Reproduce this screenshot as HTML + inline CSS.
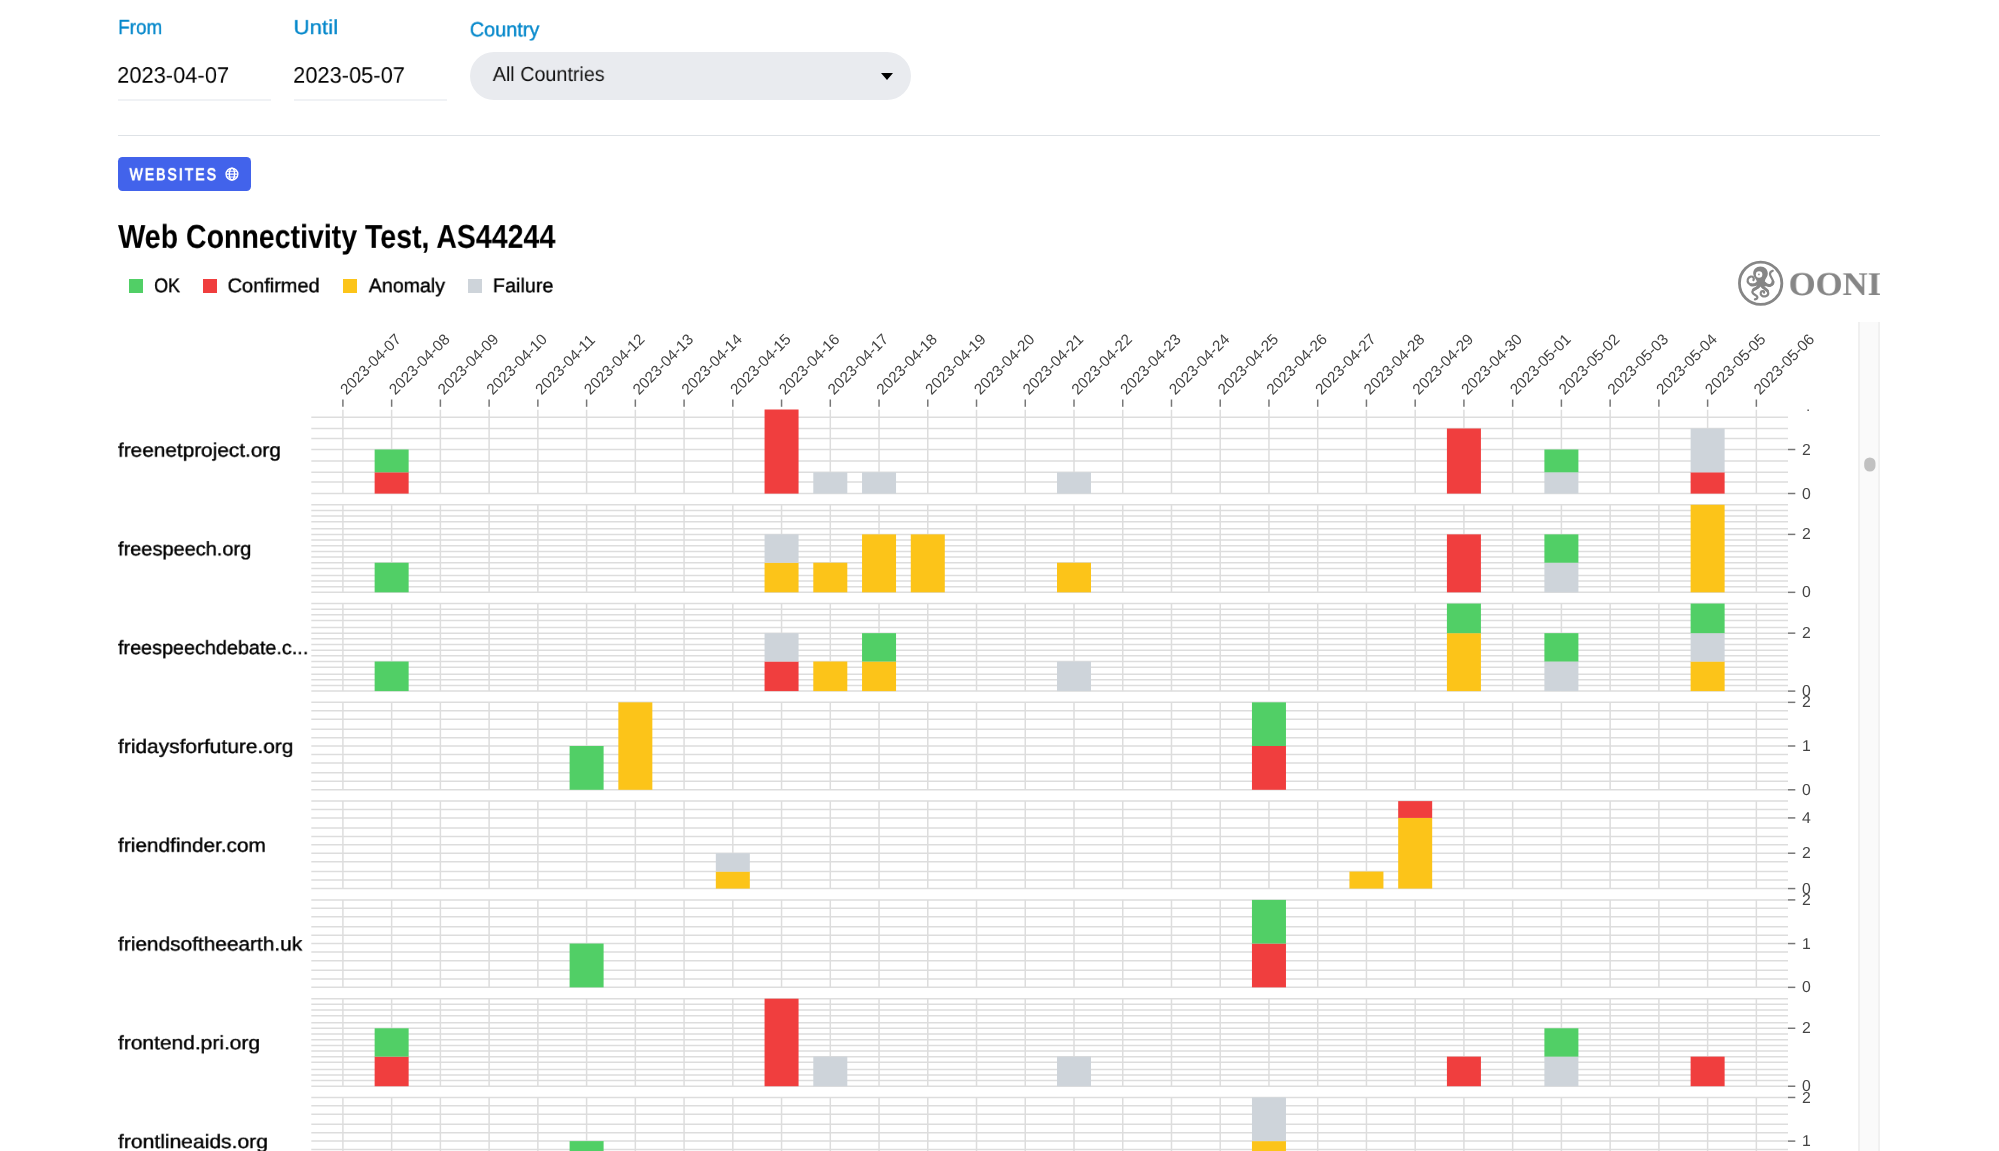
<!DOCTYPE html>
<html lang="en">
<head>
<meta charset="utf-8">
<title>OONI MAT - Web Connectivity Test, AS44244</title>
<style>
html,body{margin:0;padding:0;background:#fff;overflow:hidden;}
html{width:1999px;height:1151px;}
body{width:1999px;height:1151px;overflow:hidden;position:relative;font-family:"Liberation Sans",Arial,sans-serif;color:#000;text-rendering:geometricPrecision;}
.t{position:absolute;display:block;white-space:nowrap;line-height:0;height:0;font-weight:normal;transform-origin:0 0;will-change:transform;}
.lbl{color:#0588cb;-webkit-text-stroke:0.4px #0588cb;}
.fs{-webkit-text-stroke:0.45px #000;}
.uline{position:absolute;height:1.8px;background:#f0f2f5;}
.select{position:absolute;left:470px;top:52px;width:440.5px;height:47.5px;border-radius:24px;background:#e9ebef;}
.caret{position:absolute;left:880.5px;top:72.6px;width:0;height:0;border-left:6.9px solid transparent;border-right:6.9px solid transparent;border-top:7.6px solid #000;}
.hr{position:absolute;left:118px;top:134.7px;width:1762px;height:1.5px;background:#dee2e6;}
.badge{position:absolute;left:118px;top:157.4px;width:133px;height:33.6px;border-radius:4.5px;background:#4263eb;}
.sq{position:absolute;top:278.8px;width:14.4px;height:14.2px;}
.chart{position:absolute;left:0;top:0;will-change:transform;}
.page{position:absolute;left:0;top:0;width:1999px;height:1151px;overflow:hidden;}
</style>
</head>
<body>
<main class="page">
<div class="filters">
<label class="t lbl" id="lfrom" style="left:118px;top:27px;font-size:23.3px;transform:translate(0.15px,0.03px) scale(0.81122,0.87124);">From</label>
<label class="t lbl" id="luntil" style="left:293px;top:27px;font-size:25.7px;transform:translate(0.48px,0.68px) scale(0.86816,0.78988);">Until</label>
<label class="t lbl" id="lcountry" style="left:469px;top:29px;font-size:23.3px;transform:translate(0.79px,0.33px) scale(0.85129,0.87124);">Country</label>
<div class="t" id="d1" style="left:117px;top:75px;font-size:25.9px;transform:translate(0.10px,0.75px) scale(0.84570,0.86873);">2023-04-07</div>
<div class="t" id="d2" style="left:293px;top:75px;font-size:25.9px;transform:translate(0.10px,0.75px) scale(0.84414,0.86873);">2023-05-07</div>
<div class="uline" style="left:118px;top:99.2px;width:153.4px"></div>
<div class="uline" style="left:294.3px;top:99.2px;width:153.2px"></div>
<div class="select"></div>
<div class="t" id="sel" style="left:492px;top:73px;font-size:23.2px;transform:translate(0.76px,0.93px) scale(0.85162,0.87069);color:#111">All Countries</div>
<div class="caret"></div>
</div>
<div class="hr"></div>
<div class="badge"></div>
<div class="t" id="badge" style="left:129px;top:175px;font-size:19.2px;letter-spacing:2.874px;transform:translate(0.60px,0.65px) scale(0.72410,0.86979);color:#fff;-webkit-text-stroke:1px #fff">WEBSITES</div>
<svg style="position:absolute;left:224px;top:167px" width="16" height="16" viewBox="0 0 16 16" fill="none" stroke="#fff" stroke-width="1.4"><g transform="translate(0.95,0.1)"><circle cx="7" cy="7" r="5.9"/><ellipse cx="7" cy="7" rx="2.6" ry="5.9"/><path d="M1.1 7H12.9M2 4.1H12M2 9.9H12" stroke-width="1.1"/></g></svg>
<h1 class="t" id="title" style="left:118px;top:237px;font-size:37.9px;font-weight:bold;transform:translate(0.37px,0.35px) scale(0.75247,0.87071);margin:0;">Web Connectivity Test, AS44244</h1>
<div class="legend">
<div class="sq" style="left:129px;background:#51cf66"></div>
<div class="t fs" id="lg0" style="left:154px;top:285px;font-size:22.8px;transform:translate(0.15px,0.25px) scale(0.78479,0.86842);">OK</div>
<div class="sq" style="left:202.6px;background:#f03e3e"></div>
<div class="t fs" id="lg1" style="left:227px;top:285px;font-size:23px;transform:translate(0.59px,0.31px) scale(0.86801,0.86087);">Confirmed</div>
<div class="sq" style="left:343px;background:#fcc419"></div>
<div class="t fs" id="lg2" style="left:368px;top:285px;font-size:22.8px;transform:translate(0.76px,0.25px) scale(0.85991,0.86842);">Anomaly</div>
<div class="sq" style="left:467.6px;background:#ced4da"></div>
<div class="t fs" id="lg3" style="left:492px;top:285px;font-size:22.8px;transform:translate(0.88px,0.25px) scale(0.86825,0.86842);">Failure</div>
</div>
<div class="logo">
<svg style="position:absolute;left:1735px;top:258px" width="50" height="50" viewBox="0 0 50 50"><circle cx="25.65" cy="25.25" r="21.2" fill="none" stroke="#868686" stroke-width="2.8"/><g fill="none" stroke="#868686" stroke-linecap="round" stroke-linejoin="round">
<path d="M22 25.4C19.6 27.4 15.6 27.6 13.6 25.2C11.6 22.8 12.8 19.2 15.6 18.6C18.2 18.1 19.6 20.4 18.4 22.2" stroke-width="2.2"/>
<path d="M22.4 25.2C20.6 26.8 18 27.4 16 26.8" stroke-width="3"/>
<path d="M29.6 25.2C31.6 27.6 35.6 28.4 37.6 25.8C39.8 22.8 35.4 19.6 35 16.4C34.8 14.8 36 13.4 37.8 12.8" stroke-width="2.2"/>
<path d="M29.4 25C31 27 33.6 27.8 35.6 27.2C37.2 26.6 38 25.2 38 23.8" stroke-width="3"/>
<path d="M24.2 28C22.4 30.4 18 30.8 17.4 33.6C16.8 36.4 21 36.6 22.2 38.6C23 40 21.6 41 19.9 41.3" stroke-width="2.2"/>
<path d="M24 28.2C22.6 30 19.6 30.8 18.2 32" stroke-width="2.9"/>
<path d="M27 28.2C28.6 30.6 32.6 31.4 33.2 34.6C33.8 37.8 29.6 39.4 27 37.8C24.6 36.2 25.6 33 28 33.2C29 33.3 29.4 34 29 34.6" stroke-width="2.2"/>
<path d="M27.2 28.4C28.6 30.2 31.4 31.2 32.6 33" stroke-width="2.9"/>
</g>
<path d="M25.5 8.5C29.8 8.5 32.8 11.6 32.8 15.4C32.8 18.2 31 20 30.2 21.8C29.6 23.8 29.8 26.4 30.6 28.6L21.2 28.8C21.8 26.6 22 24.2 21.4 22.2C20.4 20 18.2 18.4 18.2 15.4C18.2 11.6 21.2 8.5 25.5 8.5Z" fill="#868686"/>
<circle cx="24.1" cy="16.5" r="3.2" fill="#fff"/>
<circle cx="23.9" cy="16.4" r="0.85" fill="#909090"/>
</svg>
<div class="t" id="ooni" style="left:1788px;top:284px;font-size:39.9px;font-weight:bold;transform:translate(0.61px,0.18px) scale(0.87002,0.83208);font-family:'Liberation Serif','Times New Roman',serif;color:#868686">OONI</div>
</div>
<div class="rowlabels">
<div class="t fs" id="rl0" style="left:117px;top:450px;font-size:23.9px;transform:translate(0.91px,0.92px) scale(0.87008,0.81172);">freenetproject.org</div>
<div class="t fs" id="rl1" style="left:118px;top:548px;font-size:23px;transform:translate(0.02px,0.63px) scale(0.86794,0.84348);">freespeech.org</div>
<div class="t fs" id="rl2" style="left:118px;top:647px;font-size:22.8px;transform:translate(0.02px,0.35px) scale(0.86781,0.85088);">freespeechdebate.c...</div>
<div class="t fs" id="rl3" style="left:118px;top:747px;font-size:24px;transform:translate(0.00px,0.28px) scale(0.87106,0.80833);">fridaysforfuture.org</div>
<div class="t fs" id="rl4" style="left:118px;top:846px;font-size:23.9px;transform:translate(0.01px,0.04px) scale(0.86992,0.81172);">friendfinder.com</div>
<div class="t fs" id="rl5" style="left:118px;top:944px;font-size:24px;transform:translate(0.00px,0.84px) scale(0.86815,0.80833);">friendsoftheearth.uk</div>
<div class="t fs" id="rl6" style="left:118px;top:1043px;font-size:24.1px;transform:translate(0.00px,0.65px) scale(0.86930,0.80498);">frontend.pri.org</div>
<div class="t fs" id="rl7" style="left:118px;top:1142px;font-size:24.2px;transform:translate(0.00px,0.45px) scale(0.87068,0.80165);">frontlineaids.org</div>
</div>
<svg class="chart" width="1999" height="1151" viewBox="0 0 1999 1151">
<defs><clipPath id="c1"><rect x="0" y="409.4" width="1999" height="800"/></clipPath></defs>
<g class="scrollbar">
<rect x="1858.1" y="322" width="21.9" height="840" fill="#fafafa"/>
<rect x="1858.1" y="322" width="1.9" height="840" fill="#f0f0f0"/>
<rect x="1878.1" y="322" width="1.9" height="840" fill="#f0f0f0"/>
<rect x="1864.2" y="457.4" width="11.3" height="14.2" rx="5.6" ry="5.6" fill="#c1c1c1"/>
</g>
<g class="axis-top" font-family="'Liberation Sans', Arial, sans-serif" font-size="15.3" fill="#444">
<line x1="342.9" y1="399.5" x2="342.9" y2="406.8" stroke="#777" stroke-width="1.5"/>
<text transform="translate(343.4,392.3) rotate(-45)" dominant-baseline="central" text-anchor="start">2023-04-07</text>
<line x1="391.64" y1="399.5" x2="391.64" y2="406.8" stroke="#777" stroke-width="1.5"/>
<text transform="translate(392.14,392.3) rotate(-45)" dominant-baseline="central" text-anchor="start">2023-04-08</text>
<line x1="440.38" y1="399.5" x2="440.38" y2="406.8" stroke="#777" stroke-width="1.5"/>
<text transform="translate(440.88,392.3) rotate(-45)" dominant-baseline="central" text-anchor="start">2023-04-09</text>
<line x1="489.12" y1="399.5" x2="489.12" y2="406.8" stroke="#777" stroke-width="1.5"/>
<text transform="translate(489.62,392.3) rotate(-45)" dominant-baseline="central" text-anchor="start">2023-04-10</text>
<line x1="537.86" y1="399.5" x2="537.86" y2="406.8" stroke="#777" stroke-width="1.5"/>
<text transform="translate(538.36,392.3) rotate(-45)" dominant-baseline="central" text-anchor="start">2023-04-11</text>
<line x1="586.6" y1="399.5" x2="586.6" y2="406.8" stroke="#777" stroke-width="1.5"/>
<text transform="translate(587.1,392.3) rotate(-45)" dominant-baseline="central" text-anchor="start">2023-04-12</text>
<line x1="635.34" y1="399.5" x2="635.34" y2="406.8" stroke="#777" stroke-width="1.5"/>
<text transform="translate(635.84,392.3) rotate(-45)" dominant-baseline="central" text-anchor="start">2023-04-13</text>
<line x1="684.08" y1="399.5" x2="684.08" y2="406.8" stroke="#777" stroke-width="1.5"/>
<text transform="translate(684.58,392.3) rotate(-45)" dominant-baseline="central" text-anchor="start">2023-04-14</text>
<line x1="732.82" y1="399.5" x2="732.82" y2="406.8" stroke="#777" stroke-width="1.5"/>
<text transform="translate(733.32,392.3) rotate(-45)" dominant-baseline="central" text-anchor="start">2023-04-15</text>
<line x1="781.56" y1="399.5" x2="781.56" y2="406.8" stroke="#777" stroke-width="1.5"/>
<text transform="translate(782.06,392.3) rotate(-45)" dominant-baseline="central" text-anchor="start">2023-04-16</text>
<line x1="830.3" y1="399.5" x2="830.3" y2="406.8" stroke="#777" stroke-width="1.5"/>
<text transform="translate(830.8,392.3) rotate(-45)" dominant-baseline="central" text-anchor="start">2023-04-17</text>
<line x1="879.04" y1="399.5" x2="879.04" y2="406.8" stroke="#777" stroke-width="1.5"/>
<text transform="translate(879.54,392.3) rotate(-45)" dominant-baseline="central" text-anchor="start">2023-04-18</text>
<line x1="927.78" y1="399.5" x2="927.78" y2="406.8" stroke="#777" stroke-width="1.5"/>
<text transform="translate(928.28,392.3) rotate(-45)" dominant-baseline="central" text-anchor="start">2023-04-19</text>
<line x1="976.52" y1="399.5" x2="976.52" y2="406.8" stroke="#777" stroke-width="1.5"/>
<text transform="translate(977.02,392.3) rotate(-45)" dominant-baseline="central" text-anchor="start">2023-04-20</text>
<line x1="1025.26" y1="399.5" x2="1025.26" y2="406.8" stroke="#777" stroke-width="1.5"/>
<text transform="translate(1025.76,392.3) rotate(-45)" dominant-baseline="central" text-anchor="start">2023-04-21</text>
<line x1="1074" y1="399.5" x2="1074" y2="406.8" stroke="#777" stroke-width="1.5"/>
<text transform="translate(1074.5,392.3) rotate(-45)" dominant-baseline="central" text-anchor="start">2023-04-22</text>
<line x1="1122.74" y1="399.5" x2="1122.74" y2="406.8" stroke="#777" stroke-width="1.5"/>
<text transform="translate(1123.24,392.3) rotate(-45)" dominant-baseline="central" text-anchor="start">2023-04-23</text>
<line x1="1171.48" y1="399.5" x2="1171.48" y2="406.8" stroke="#777" stroke-width="1.5"/>
<text transform="translate(1171.98,392.3) rotate(-45)" dominant-baseline="central" text-anchor="start">2023-04-24</text>
<line x1="1220.22" y1="399.5" x2="1220.22" y2="406.8" stroke="#777" stroke-width="1.5"/>
<text transform="translate(1220.72,392.3) rotate(-45)" dominant-baseline="central" text-anchor="start">2023-04-25</text>
<line x1="1268.96" y1="399.5" x2="1268.96" y2="406.8" stroke="#777" stroke-width="1.5"/>
<text transform="translate(1269.46,392.3) rotate(-45)" dominant-baseline="central" text-anchor="start">2023-04-26</text>
<line x1="1317.7" y1="399.5" x2="1317.7" y2="406.8" stroke="#777" stroke-width="1.5"/>
<text transform="translate(1318.2,392.3) rotate(-45)" dominant-baseline="central" text-anchor="start">2023-04-27</text>
<line x1="1366.44" y1="399.5" x2="1366.44" y2="406.8" stroke="#777" stroke-width="1.5"/>
<text transform="translate(1366.94,392.3) rotate(-45)" dominant-baseline="central" text-anchor="start">2023-04-28</text>
<line x1="1415.18" y1="399.5" x2="1415.18" y2="406.8" stroke="#777" stroke-width="1.5"/>
<text transform="translate(1415.68,392.3) rotate(-45)" dominant-baseline="central" text-anchor="start">2023-04-29</text>
<line x1="1463.92" y1="399.5" x2="1463.92" y2="406.8" stroke="#777" stroke-width="1.5"/>
<text transform="translate(1464.42,392.3) rotate(-45)" dominant-baseline="central" text-anchor="start">2023-04-30</text>
<line x1="1512.66" y1="399.5" x2="1512.66" y2="406.8" stroke="#777" stroke-width="1.5"/>
<text transform="translate(1513.16,392.3) rotate(-45)" dominant-baseline="central" text-anchor="start">2023-05-01</text>
<line x1="1561.4" y1="399.5" x2="1561.4" y2="406.8" stroke="#777" stroke-width="1.5"/>
<text transform="translate(1561.9,392.3) rotate(-45)" dominant-baseline="central" text-anchor="start">2023-05-02</text>
<line x1="1610.14" y1="399.5" x2="1610.14" y2="406.8" stroke="#777" stroke-width="1.5"/>
<text transform="translate(1610.64,392.3) rotate(-45)" dominant-baseline="central" text-anchor="start">2023-05-03</text>
<line x1="1658.88" y1="399.5" x2="1658.88" y2="406.8" stroke="#777" stroke-width="1.5"/>
<text transform="translate(1659.38,392.3) rotate(-45)" dominant-baseline="central" text-anchor="start">2023-05-04</text>
<line x1="1707.62" y1="399.5" x2="1707.62" y2="406.8" stroke="#777" stroke-width="1.5"/>
<text transform="translate(1708.12,392.3) rotate(-45)" dominant-baseline="central" text-anchor="start">2023-05-05</text>
<line x1="1756.36" y1="399.5" x2="1756.36" y2="406.8" stroke="#777" stroke-width="1.5"/>
<text transform="translate(1756.86,392.3) rotate(-45)" dominant-baseline="central" text-anchor="start">2023-05-06</text>
</g>
<g class="row" clip-path="url(#c1)">
<g class="grid" stroke="#dddddd" stroke-width="1.5">
<line x1="342.9" y1="409.4" x2="342.9" y2="493.6"/>
<line x1="391.64" y1="409.4" x2="391.64" y2="493.6"/>
<line x1="440.38" y1="409.4" x2="440.38" y2="493.6"/>
<line x1="489.12" y1="409.4" x2="489.12" y2="493.6"/>
<line x1="537.86" y1="409.4" x2="537.86" y2="493.6"/>
<line x1="586.6" y1="409.4" x2="586.6" y2="493.6"/>
<line x1="635.34" y1="409.4" x2="635.34" y2="493.6"/>
<line x1="684.08" y1="409.4" x2="684.08" y2="493.6"/>
<line x1="732.82" y1="409.4" x2="732.82" y2="493.6"/>
<line x1="781.56" y1="409.4" x2="781.56" y2="493.6"/>
<line x1="830.3" y1="409.4" x2="830.3" y2="493.6"/>
<line x1="879.04" y1="409.4" x2="879.04" y2="493.6"/>
<line x1="927.78" y1="409.4" x2="927.78" y2="493.6"/>
<line x1="976.52" y1="409.4" x2="976.52" y2="493.6"/>
<line x1="1025.26" y1="409.4" x2="1025.26" y2="493.6"/>
<line x1="1074" y1="409.4" x2="1074" y2="493.6"/>
<line x1="1122.74" y1="409.4" x2="1122.74" y2="493.6"/>
<line x1="1171.48" y1="409.4" x2="1171.48" y2="493.6"/>
<line x1="1220.22" y1="409.4" x2="1220.22" y2="493.6"/>
<line x1="1268.96" y1="409.4" x2="1268.96" y2="493.6"/>
<line x1="1317.7" y1="409.4" x2="1317.7" y2="493.6"/>
<line x1="1366.44" y1="409.4" x2="1366.44" y2="493.6"/>
<line x1="1415.18" y1="409.4" x2="1415.18" y2="493.6"/>
<line x1="1463.92" y1="409.4" x2="1463.92" y2="493.6"/>
<line x1="1512.66" y1="409.4" x2="1512.66" y2="493.6"/>
<line x1="1561.4" y1="409.4" x2="1561.4" y2="493.6"/>
<line x1="1610.14" y1="409.4" x2="1610.14" y2="493.6"/>
<line x1="1658.88" y1="409.4" x2="1658.88" y2="493.6"/>
<line x1="1707.62" y1="409.4" x2="1707.62" y2="493.6"/>
<line x1="1756.36" y1="409.4" x2="1756.36" y2="493.6"/>
<line x1="311.3" y1="493.6" x2="1788" y2="493.6"/>
<line x1="311.3" y1="482.1" x2="1788" y2="482.1"/>
<line x1="311.3" y1="472.3" x2="1788" y2="472.3"/>
<line x1="311.3" y1="461.1" x2="1788" y2="461.1"/>
<line x1="311.3" y1="449.5" x2="1788" y2="449.5"/>
<line x1="311.3" y1="438.4" x2="1788" y2="438.4"/>
<line x1="311.3" y1="428.5" x2="1788" y2="428.5"/>
<line x1="311.3" y1="417.3" x2="1788" y2="417.3"/>
</g>
<g class="bars">
<rect x="374.64" y="472.3" width="34" height="21.3" fill="#f03e3e"/>
<rect x="374.64" y="449.5" width="34" height="22.8" fill="#51cf66"/>
<rect x="764.56" y="406" width="34" height="87.6" fill="#f03e3e"/>
<rect x="813.3" y="472.3" width="34" height="21.3" fill="#ced4da"/>
<rect x="862.04" y="472.3" width="34" height="21.3" fill="#ced4da"/>
<rect x="1057" y="472.3" width="34" height="21.3" fill="#ced4da"/>
<rect x="1446.92" y="428.5" width="34" height="65.1" fill="#f03e3e"/>
<rect x="1544.4" y="472.3" width="34" height="21.3" fill="#ced4da"/>
<rect x="1544.4" y="449.5" width="34" height="22.8" fill="#51cf66"/>
<rect x="1690.62" y="472.3" width="34" height="21.3" fill="#f03e3e"/>
<rect x="1690.62" y="428.5" width="34" height="43.8" fill="#ced4da"/>
</g>
<g class="axis-right" font-family="'Liberation Sans', Arial, sans-serif" font-size="15.8" fill="#444">
<line x1="1788" y1="493.6" x2="1795.3" y2="493.6" stroke="#777" stroke-width="1.5"/>
<text transform="translate(1802,498.71) rotate(0.02)">0</text>
<line x1="1788" y1="449.5" x2="1795.3" y2="449.5" stroke="#777" stroke-width="1.5"/>
<text transform="translate(1802,454.61) rotate(0.02)">2</text>
<line x1="1788" y1="406" x2="1795.3" y2="406" stroke="#777" stroke-width="1.5"/>
<text transform="translate(1802,410.66) rotate(0.02)">4</text>
</g>
</g>
<g class="row">
<g class="grid" stroke="#dddddd" stroke-width="1.5">
<line x1="342.9" y1="504.78" x2="342.9" y2="592.33"/>
<line x1="391.64" y1="504.78" x2="391.64" y2="592.33"/>
<line x1="440.38" y1="504.78" x2="440.38" y2="592.33"/>
<line x1="489.12" y1="504.78" x2="489.12" y2="592.33"/>
<line x1="537.86" y1="504.78" x2="537.86" y2="592.33"/>
<line x1="586.6" y1="504.78" x2="586.6" y2="592.33"/>
<line x1="635.34" y1="504.78" x2="635.34" y2="592.33"/>
<line x1="684.08" y1="504.78" x2="684.08" y2="592.33"/>
<line x1="732.82" y1="504.78" x2="732.82" y2="592.33"/>
<line x1="781.56" y1="504.78" x2="781.56" y2="592.33"/>
<line x1="830.3" y1="504.78" x2="830.3" y2="592.33"/>
<line x1="879.04" y1="504.78" x2="879.04" y2="592.33"/>
<line x1="927.78" y1="504.78" x2="927.78" y2="592.33"/>
<line x1="976.52" y1="504.78" x2="976.52" y2="592.33"/>
<line x1="1025.26" y1="504.78" x2="1025.26" y2="592.33"/>
<line x1="1074" y1="504.78" x2="1074" y2="592.33"/>
<line x1="1122.74" y1="504.78" x2="1122.74" y2="592.33"/>
<line x1="1171.48" y1="504.78" x2="1171.48" y2="592.33"/>
<line x1="1220.22" y1="504.78" x2="1220.22" y2="592.33"/>
<line x1="1268.96" y1="504.78" x2="1268.96" y2="592.33"/>
<line x1="1317.7" y1="504.78" x2="1317.7" y2="592.33"/>
<line x1="1366.44" y1="504.78" x2="1366.44" y2="592.33"/>
<line x1="1415.18" y1="504.78" x2="1415.18" y2="592.33"/>
<line x1="1463.92" y1="504.78" x2="1463.92" y2="592.33"/>
<line x1="1512.66" y1="504.78" x2="1512.66" y2="592.33"/>
<line x1="1561.4" y1="504.78" x2="1561.4" y2="592.33"/>
<line x1="1610.14" y1="504.78" x2="1610.14" y2="592.33"/>
<line x1="1658.88" y1="504.78" x2="1658.88" y2="592.33"/>
<line x1="1707.62" y1="504.78" x2="1707.62" y2="592.33"/>
<line x1="1756.36" y1="504.78" x2="1756.36" y2="592.33"/>
<line x1="311.3" y1="592.33" x2="1788" y2="592.33"/>
<line x1="311.3" y1="586.68" x2="1788" y2="586.68"/>
<line x1="311.3" y1="581.08" x2="1788" y2="581.08"/>
<line x1="311.3" y1="575.53" x2="1788" y2="575.53"/>
<line x1="311.3" y1="568.43" x2="1788" y2="568.43"/>
<line x1="311.3" y1="562.73" x2="1788" y2="562.73"/>
<line x1="311.3" y1="557.08" x2="1788" y2="557.08"/>
<line x1="311.3" y1="551.48" x2="1788" y2="551.48"/>
<line x1="311.3" y1="545.73" x2="1788" y2="545.73"/>
<line x1="311.3" y1="539.98" x2="1788" y2="539.98"/>
<line x1="311.3" y1="534.38" x2="1788" y2="534.38"/>
<line x1="311.3" y1="528.78" x2="1788" y2="528.78"/>
<line x1="311.3" y1="521.78" x2="1788" y2="521.78"/>
<line x1="311.3" y1="516.08" x2="1788" y2="516.08"/>
<line x1="311.3" y1="510.38" x2="1788" y2="510.38"/>
<line x1="311.3" y1="504.78" x2="1788" y2="504.78"/>
</g>
<g class="bars">
<rect x="374.64" y="562.73" width="34" height="29.6" fill="#51cf66"/>
<rect x="764.56" y="562.73" width="34" height="29.6" fill="#fcc419"/>
<rect x="764.56" y="534.38" width="34" height="28.35" fill="#ced4da"/>
<rect x="813.3" y="562.73" width="34" height="29.6" fill="#fcc419"/>
<rect x="862.04" y="534.38" width="34" height="57.95" fill="#fcc419"/>
<rect x="910.78" y="534.38" width="34" height="57.95" fill="#fcc419"/>
<rect x="1057" y="562.73" width="34" height="29.6" fill="#fcc419"/>
<rect x="1446.92" y="534.38" width="34" height="57.95" fill="#f03e3e"/>
<rect x="1544.4" y="562.73" width="34" height="29.6" fill="#ced4da"/>
<rect x="1544.4" y="534.38" width="34" height="28.35" fill="#51cf66"/>
<rect x="1690.62" y="504.78" width="34" height="87.55" fill="#fcc419"/>
</g>
<g class="axis-right" font-family="'Liberation Sans', Arial, sans-serif" font-size="15.8" fill="#444">
<line x1="1788" y1="592.33" x2="1795.3" y2="592.33" stroke="#777" stroke-width="1.5"/>
<text transform="translate(1802,597.44) rotate(0.02)">0</text>
<line x1="1788" y1="534.38" x2="1795.3" y2="534.38" stroke="#777" stroke-width="1.5"/>
<text transform="translate(1802,539.49) rotate(0.02)">2</text>
</g>
</g>
<g class="row">
<g class="grid" stroke="#dddddd" stroke-width="1.5">
<line x1="342.9" y1="603.56" x2="342.9" y2="691.11"/>
<line x1="391.64" y1="603.56" x2="391.64" y2="691.11"/>
<line x1="440.38" y1="603.56" x2="440.38" y2="691.11"/>
<line x1="489.12" y1="603.56" x2="489.12" y2="691.11"/>
<line x1="537.86" y1="603.56" x2="537.86" y2="691.11"/>
<line x1="586.6" y1="603.56" x2="586.6" y2="691.11"/>
<line x1="635.34" y1="603.56" x2="635.34" y2="691.11"/>
<line x1="684.08" y1="603.56" x2="684.08" y2="691.11"/>
<line x1="732.82" y1="603.56" x2="732.82" y2="691.11"/>
<line x1="781.56" y1="603.56" x2="781.56" y2="691.11"/>
<line x1="830.3" y1="603.56" x2="830.3" y2="691.11"/>
<line x1="879.04" y1="603.56" x2="879.04" y2="691.11"/>
<line x1="927.78" y1="603.56" x2="927.78" y2="691.11"/>
<line x1="976.52" y1="603.56" x2="976.52" y2="691.11"/>
<line x1="1025.26" y1="603.56" x2="1025.26" y2="691.11"/>
<line x1="1074" y1="603.56" x2="1074" y2="691.11"/>
<line x1="1122.74" y1="603.56" x2="1122.74" y2="691.11"/>
<line x1="1171.48" y1="603.56" x2="1171.48" y2="691.11"/>
<line x1="1220.22" y1="603.56" x2="1220.22" y2="691.11"/>
<line x1="1268.96" y1="603.56" x2="1268.96" y2="691.11"/>
<line x1="1317.7" y1="603.56" x2="1317.7" y2="691.11"/>
<line x1="1366.44" y1="603.56" x2="1366.44" y2="691.11"/>
<line x1="1415.18" y1="603.56" x2="1415.18" y2="691.11"/>
<line x1="1463.92" y1="603.56" x2="1463.92" y2="691.11"/>
<line x1="1512.66" y1="603.56" x2="1512.66" y2="691.11"/>
<line x1="1561.4" y1="603.56" x2="1561.4" y2="691.11"/>
<line x1="1610.14" y1="603.56" x2="1610.14" y2="691.11"/>
<line x1="1658.88" y1="603.56" x2="1658.88" y2="691.11"/>
<line x1="1707.62" y1="603.56" x2="1707.62" y2="691.11"/>
<line x1="1756.36" y1="603.56" x2="1756.36" y2="691.11"/>
<line x1="311.3" y1="691.11" x2="1788" y2="691.11"/>
<line x1="311.3" y1="685.46" x2="1788" y2="685.46"/>
<line x1="311.3" y1="679.86" x2="1788" y2="679.86"/>
<line x1="311.3" y1="674.31" x2="1788" y2="674.31"/>
<line x1="311.3" y1="667.21" x2="1788" y2="667.21"/>
<line x1="311.3" y1="661.51" x2="1788" y2="661.51"/>
<line x1="311.3" y1="655.86" x2="1788" y2="655.86"/>
<line x1="311.3" y1="650.26" x2="1788" y2="650.26"/>
<line x1="311.3" y1="644.51" x2="1788" y2="644.51"/>
<line x1="311.3" y1="638.76" x2="1788" y2="638.76"/>
<line x1="311.3" y1="633.16" x2="1788" y2="633.16"/>
<line x1="311.3" y1="627.56" x2="1788" y2="627.56"/>
<line x1="311.3" y1="620.56" x2="1788" y2="620.56"/>
<line x1="311.3" y1="614.86" x2="1788" y2="614.86"/>
<line x1="311.3" y1="609.16" x2="1788" y2="609.16"/>
<line x1="311.3" y1="603.56" x2="1788" y2="603.56"/>
</g>
<g class="bars">
<rect x="374.64" y="661.51" width="34" height="29.6" fill="#51cf66"/>
<rect x="764.56" y="661.51" width="34" height="29.6" fill="#f03e3e"/>
<rect x="764.56" y="633.16" width="34" height="28.35" fill="#ced4da"/>
<rect x="813.3" y="661.51" width="34" height="29.6" fill="#fcc419"/>
<rect x="862.04" y="661.51" width="34" height="29.6" fill="#fcc419"/>
<rect x="862.04" y="633.16" width="34" height="28.35" fill="#51cf66"/>
<rect x="1057" y="661.51" width="34" height="29.6" fill="#ced4da"/>
<rect x="1446.92" y="633.16" width="34" height="57.95" fill="#fcc419"/>
<rect x="1446.92" y="603.56" width="34" height="29.6" fill="#51cf66"/>
<rect x="1544.4" y="661.51" width="34" height="29.6" fill="#ced4da"/>
<rect x="1544.4" y="633.16" width="34" height="28.35" fill="#51cf66"/>
<rect x="1690.62" y="661.51" width="34" height="29.6" fill="#fcc419"/>
<rect x="1690.62" y="633.16" width="34" height="28.35" fill="#ced4da"/>
<rect x="1690.62" y="603.56" width="34" height="29.6" fill="#51cf66"/>
</g>
<g class="axis-right" font-family="'Liberation Sans', Arial, sans-serif" font-size="15.8" fill="#444">
<line x1="1788" y1="691.11" x2="1795.3" y2="691.11" stroke="#777" stroke-width="1.5"/>
<text transform="translate(1802,696.22) rotate(0.02)">0</text>
<line x1="1788" y1="633.16" x2="1795.3" y2="633.16" stroke="#777" stroke-width="1.5"/>
<text transform="translate(1802,638.27) rotate(0.02)">2</text>
</g>
</g>
<g class="row">
<g class="grid" stroke="#dddddd" stroke-width="1.5">
<line x1="342.9" y1="702.34" x2="342.9" y2="789.79"/>
<line x1="391.64" y1="702.34" x2="391.64" y2="789.79"/>
<line x1="440.38" y1="702.34" x2="440.38" y2="789.79"/>
<line x1="489.12" y1="702.34" x2="489.12" y2="789.79"/>
<line x1="537.86" y1="702.34" x2="537.86" y2="789.79"/>
<line x1="586.6" y1="702.34" x2="586.6" y2="789.79"/>
<line x1="635.34" y1="702.34" x2="635.34" y2="789.79"/>
<line x1="684.08" y1="702.34" x2="684.08" y2="789.79"/>
<line x1="732.82" y1="702.34" x2="732.82" y2="789.79"/>
<line x1="781.56" y1="702.34" x2="781.56" y2="789.79"/>
<line x1="830.3" y1="702.34" x2="830.3" y2="789.79"/>
<line x1="879.04" y1="702.34" x2="879.04" y2="789.79"/>
<line x1="927.78" y1="702.34" x2="927.78" y2="789.79"/>
<line x1="976.52" y1="702.34" x2="976.52" y2="789.79"/>
<line x1="1025.26" y1="702.34" x2="1025.26" y2="789.79"/>
<line x1="1074" y1="702.34" x2="1074" y2="789.79"/>
<line x1="1122.74" y1="702.34" x2="1122.74" y2="789.79"/>
<line x1="1171.48" y1="702.34" x2="1171.48" y2="789.79"/>
<line x1="1220.22" y1="702.34" x2="1220.22" y2="789.79"/>
<line x1="1268.96" y1="702.34" x2="1268.96" y2="789.79"/>
<line x1="1317.7" y1="702.34" x2="1317.7" y2="789.79"/>
<line x1="1366.44" y1="702.34" x2="1366.44" y2="789.79"/>
<line x1="1415.18" y1="702.34" x2="1415.18" y2="789.79"/>
<line x1="1463.92" y1="702.34" x2="1463.92" y2="789.79"/>
<line x1="1512.66" y1="702.34" x2="1512.66" y2="789.79"/>
<line x1="1561.4" y1="702.34" x2="1561.4" y2="789.79"/>
<line x1="1610.14" y1="702.34" x2="1610.14" y2="789.79"/>
<line x1="1658.88" y1="702.34" x2="1658.88" y2="789.79"/>
<line x1="1707.62" y1="702.34" x2="1707.62" y2="789.79"/>
<line x1="1756.36" y1="702.34" x2="1756.36" y2="789.79"/>
<line x1="311.3" y1="789.79" x2="1788" y2="789.79"/>
<line x1="311.3" y1="781.34" x2="1788" y2="781.34"/>
<line x1="311.3" y1="772.79" x2="1788" y2="772.79"/>
<line x1="311.3" y1="763.09" x2="1788" y2="763.09"/>
<line x1="311.3" y1="754.44" x2="1788" y2="754.44"/>
<line x1="311.3" y1="745.99" x2="1788" y2="745.99"/>
<line x1="311.3" y1="737.69" x2="1788" y2="737.69"/>
<line x1="311.3" y1="729.19" x2="1788" y2="729.19"/>
<line x1="311.3" y1="719.14" x2="1788" y2="719.14"/>
<line x1="311.3" y1="710.69" x2="1788" y2="710.69"/>
<line x1="311.3" y1="702.34" x2="1788" y2="702.34"/>
</g>
<g class="bars">
<rect x="569.6" y="745.99" width="34" height="43.8" fill="#51cf66"/>
<rect x="618.34" y="702.34" width="34" height="87.45" fill="#fcc419"/>
<rect x="1251.96" y="745.99" width="34" height="43.8" fill="#f03e3e"/>
<rect x="1251.96" y="702.34" width="34" height="43.65" fill="#51cf66"/>
</g>
<g class="axis-right" font-family="'Liberation Sans', Arial, sans-serif" font-size="15.8" fill="#444">
<line x1="1788" y1="789.79" x2="1795.3" y2="789.79" stroke="#777" stroke-width="1.5"/>
<text transform="translate(1802,794.9) rotate(0.02)">0</text>
<line x1="1788" y1="745.99" x2="1795.3" y2="745.99" stroke="#777" stroke-width="1.5"/>
<text transform="translate(1802,751.1) rotate(0.02)">1</text>
<line x1="1788" y1="702.34" x2="1795.3" y2="702.34" stroke="#777" stroke-width="1.5"/>
<text transform="translate(1802,707.45) rotate(0.02)">2</text>
</g>
</g>
<g class="row">
<g class="grid" stroke="#dddddd" stroke-width="1.5">
<line x1="342.9" y1="801.12" x2="342.9" y2="888.57"/>
<line x1="391.64" y1="801.12" x2="391.64" y2="888.57"/>
<line x1="440.38" y1="801.12" x2="440.38" y2="888.57"/>
<line x1="489.12" y1="801.12" x2="489.12" y2="888.57"/>
<line x1="537.86" y1="801.12" x2="537.86" y2="888.57"/>
<line x1="586.6" y1="801.12" x2="586.6" y2="888.57"/>
<line x1="635.34" y1="801.12" x2="635.34" y2="888.57"/>
<line x1="684.08" y1="801.12" x2="684.08" y2="888.57"/>
<line x1="732.82" y1="801.12" x2="732.82" y2="888.57"/>
<line x1="781.56" y1="801.12" x2="781.56" y2="888.57"/>
<line x1="830.3" y1="801.12" x2="830.3" y2="888.57"/>
<line x1="879.04" y1="801.12" x2="879.04" y2="888.57"/>
<line x1="927.78" y1="801.12" x2="927.78" y2="888.57"/>
<line x1="976.52" y1="801.12" x2="976.52" y2="888.57"/>
<line x1="1025.26" y1="801.12" x2="1025.26" y2="888.57"/>
<line x1="1074" y1="801.12" x2="1074" y2="888.57"/>
<line x1="1122.74" y1="801.12" x2="1122.74" y2="888.57"/>
<line x1="1171.48" y1="801.12" x2="1171.48" y2="888.57"/>
<line x1="1220.22" y1="801.12" x2="1220.22" y2="888.57"/>
<line x1="1268.96" y1="801.12" x2="1268.96" y2="888.57"/>
<line x1="1317.7" y1="801.12" x2="1317.7" y2="888.57"/>
<line x1="1366.44" y1="801.12" x2="1366.44" y2="888.57"/>
<line x1="1415.18" y1="801.12" x2="1415.18" y2="888.57"/>
<line x1="1463.92" y1="801.12" x2="1463.92" y2="888.57"/>
<line x1="1512.66" y1="801.12" x2="1512.66" y2="888.57"/>
<line x1="1561.4" y1="801.12" x2="1561.4" y2="888.57"/>
<line x1="1610.14" y1="801.12" x2="1610.14" y2="888.57"/>
<line x1="1658.88" y1="801.12" x2="1658.88" y2="888.57"/>
<line x1="1707.62" y1="801.12" x2="1707.62" y2="888.57"/>
<line x1="1756.36" y1="801.12" x2="1756.36" y2="888.57"/>
<line x1="311.3" y1="888.57" x2="1788" y2="888.57"/>
<line x1="311.3" y1="880.12" x2="1788" y2="880.12"/>
<line x1="311.3" y1="871.57" x2="1788" y2="871.57"/>
<line x1="311.3" y1="861.87" x2="1788" y2="861.87"/>
<line x1="311.3" y1="853.22" x2="1788" y2="853.22"/>
<line x1="311.3" y1="844.77" x2="1788" y2="844.77"/>
<line x1="311.3" y1="836.47" x2="1788" y2="836.47"/>
<line x1="311.3" y1="827.97" x2="1788" y2="827.97"/>
<line x1="311.3" y1="817.92" x2="1788" y2="817.92"/>
<line x1="311.3" y1="809.47" x2="1788" y2="809.47"/>
<line x1="311.3" y1="801.12" x2="1788" y2="801.12"/>
</g>
<g class="bars">
<rect x="715.82" y="871.57" width="34" height="17" fill="#fcc419"/>
<rect x="715.82" y="853.22" width="34" height="18.35" fill="#ced4da"/>
<rect x="1349.44" y="871.57" width="34" height="17" fill="#fcc419"/>
<rect x="1398.18" y="817.92" width="34" height="70.65" fill="#fcc419"/>
<rect x="1398.18" y="801.12" width="34" height="16.8" fill="#f03e3e"/>
</g>
<g class="axis-right" font-family="'Liberation Sans', Arial, sans-serif" font-size="15.8" fill="#444">
<line x1="1788" y1="888.57" x2="1795.3" y2="888.57" stroke="#777" stroke-width="1.5"/>
<text transform="translate(1802,893.68) rotate(0.02)">0</text>
<line x1="1788" y1="853.22" x2="1795.3" y2="853.22" stroke="#777" stroke-width="1.5"/>
<text transform="translate(1802,858.33) rotate(0.02)">2</text>
<line x1="1788" y1="817.92" x2="1795.3" y2="817.92" stroke="#777" stroke-width="1.5"/>
<text transform="translate(1802,823.03) rotate(0.02)">4</text>
</g>
</g>
<g class="row">
<g class="grid" stroke="#dddddd" stroke-width="1.5">
<line x1="342.9" y1="899.9" x2="342.9" y2="987.35"/>
<line x1="391.64" y1="899.9" x2="391.64" y2="987.35"/>
<line x1="440.38" y1="899.9" x2="440.38" y2="987.35"/>
<line x1="489.12" y1="899.9" x2="489.12" y2="987.35"/>
<line x1="537.86" y1="899.9" x2="537.86" y2="987.35"/>
<line x1="586.6" y1="899.9" x2="586.6" y2="987.35"/>
<line x1="635.34" y1="899.9" x2="635.34" y2="987.35"/>
<line x1="684.08" y1="899.9" x2="684.08" y2="987.35"/>
<line x1="732.82" y1="899.9" x2="732.82" y2="987.35"/>
<line x1="781.56" y1="899.9" x2="781.56" y2="987.35"/>
<line x1="830.3" y1="899.9" x2="830.3" y2="987.35"/>
<line x1="879.04" y1="899.9" x2="879.04" y2="987.35"/>
<line x1="927.78" y1="899.9" x2="927.78" y2="987.35"/>
<line x1="976.52" y1="899.9" x2="976.52" y2="987.35"/>
<line x1="1025.26" y1="899.9" x2="1025.26" y2="987.35"/>
<line x1="1074" y1="899.9" x2="1074" y2="987.35"/>
<line x1="1122.74" y1="899.9" x2="1122.74" y2="987.35"/>
<line x1="1171.48" y1="899.9" x2="1171.48" y2="987.35"/>
<line x1="1220.22" y1="899.9" x2="1220.22" y2="987.35"/>
<line x1="1268.96" y1="899.9" x2="1268.96" y2="987.35"/>
<line x1="1317.7" y1="899.9" x2="1317.7" y2="987.35"/>
<line x1="1366.44" y1="899.9" x2="1366.44" y2="987.35"/>
<line x1="1415.18" y1="899.9" x2="1415.18" y2="987.35"/>
<line x1="1463.92" y1="899.9" x2="1463.92" y2="987.35"/>
<line x1="1512.66" y1="899.9" x2="1512.66" y2="987.35"/>
<line x1="1561.4" y1="899.9" x2="1561.4" y2="987.35"/>
<line x1="1610.14" y1="899.9" x2="1610.14" y2="987.35"/>
<line x1="1658.88" y1="899.9" x2="1658.88" y2="987.35"/>
<line x1="1707.62" y1="899.9" x2="1707.62" y2="987.35"/>
<line x1="1756.36" y1="899.9" x2="1756.36" y2="987.35"/>
<line x1="311.3" y1="987.35" x2="1788" y2="987.35"/>
<line x1="311.3" y1="978.9" x2="1788" y2="978.9"/>
<line x1="311.3" y1="970.35" x2="1788" y2="970.35"/>
<line x1="311.3" y1="960.65" x2="1788" y2="960.65"/>
<line x1="311.3" y1="952" x2="1788" y2="952"/>
<line x1="311.3" y1="943.55" x2="1788" y2="943.55"/>
<line x1="311.3" y1="935.25" x2="1788" y2="935.25"/>
<line x1="311.3" y1="926.75" x2="1788" y2="926.75"/>
<line x1="311.3" y1="916.7" x2="1788" y2="916.7"/>
<line x1="311.3" y1="908.25" x2="1788" y2="908.25"/>
<line x1="311.3" y1="899.9" x2="1788" y2="899.9"/>
</g>
<g class="bars">
<rect x="569.6" y="943.55" width="34" height="43.8" fill="#51cf66"/>
<rect x="1251.96" y="943.55" width="34" height="43.8" fill="#f03e3e"/>
<rect x="1251.96" y="899.9" width="34" height="43.65" fill="#51cf66"/>
</g>
<g class="axis-right" font-family="'Liberation Sans', Arial, sans-serif" font-size="15.8" fill="#444">
<line x1="1788" y1="987.35" x2="1795.3" y2="987.35" stroke="#777" stroke-width="1.5"/>
<text transform="translate(1802,992.46) rotate(0.02)">0</text>
<line x1="1788" y1="943.55" x2="1795.3" y2="943.55" stroke="#777" stroke-width="1.5"/>
<text transform="translate(1802,948.66) rotate(0.02)">1</text>
<line x1="1788" y1="899.9" x2="1795.3" y2="899.9" stroke="#777" stroke-width="1.5"/>
<text transform="translate(1802,905.01) rotate(0.02)">2</text>
</g>
</g>
<g class="row">
<g class="grid" stroke="#dddddd" stroke-width="1.5">
<line x1="342.9" y1="998.68" x2="342.9" y2="1086.23"/>
<line x1="391.64" y1="998.68" x2="391.64" y2="1086.23"/>
<line x1="440.38" y1="998.68" x2="440.38" y2="1086.23"/>
<line x1="489.12" y1="998.68" x2="489.12" y2="1086.23"/>
<line x1="537.86" y1="998.68" x2="537.86" y2="1086.23"/>
<line x1="586.6" y1="998.68" x2="586.6" y2="1086.23"/>
<line x1="635.34" y1="998.68" x2="635.34" y2="1086.23"/>
<line x1="684.08" y1="998.68" x2="684.08" y2="1086.23"/>
<line x1="732.82" y1="998.68" x2="732.82" y2="1086.23"/>
<line x1="781.56" y1="998.68" x2="781.56" y2="1086.23"/>
<line x1="830.3" y1="998.68" x2="830.3" y2="1086.23"/>
<line x1="879.04" y1="998.68" x2="879.04" y2="1086.23"/>
<line x1="927.78" y1="998.68" x2="927.78" y2="1086.23"/>
<line x1="976.52" y1="998.68" x2="976.52" y2="1086.23"/>
<line x1="1025.26" y1="998.68" x2="1025.26" y2="1086.23"/>
<line x1="1074" y1="998.68" x2="1074" y2="1086.23"/>
<line x1="1122.74" y1="998.68" x2="1122.74" y2="1086.23"/>
<line x1="1171.48" y1="998.68" x2="1171.48" y2="1086.23"/>
<line x1="1220.22" y1="998.68" x2="1220.22" y2="1086.23"/>
<line x1="1268.96" y1="998.68" x2="1268.96" y2="1086.23"/>
<line x1="1317.7" y1="998.68" x2="1317.7" y2="1086.23"/>
<line x1="1366.44" y1="998.68" x2="1366.44" y2="1086.23"/>
<line x1="1415.18" y1="998.68" x2="1415.18" y2="1086.23"/>
<line x1="1463.92" y1="998.68" x2="1463.92" y2="1086.23"/>
<line x1="1512.66" y1="998.68" x2="1512.66" y2="1086.23"/>
<line x1="1561.4" y1="998.68" x2="1561.4" y2="1086.23"/>
<line x1="1610.14" y1="998.68" x2="1610.14" y2="1086.23"/>
<line x1="1658.88" y1="998.68" x2="1658.88" y2="1086.23"/>
<line x1="1707.62" y1="998.68" x2="1707.62" y2="1086.23"/>
<line x1="1756.36" y1="998.68" x2="1756.36" y2="1086.23"/>
<line x1="311.3" y1="1086.23" x2="1788" y2="1086.23"/>
<line x1="311.3" y1="1080.58" x2="1788" y2="1080.58"/>
<line x1="311.3" y1="1074.98" x2="1788" y2="1074.98"/>
<line x1="311.3" y1="1069.43" x2="1788" y2="1069.43"/>
<line x1="311.3" y1="1062.33" x2="1788" y2="1062.33"/>
<line x1="311.3" y1="1056.63" x2="1788" y2="1056.63"/>
<line x1="311.3" y1="1050.98" x2="1788" y2="1050.98"/>
<line x1="311.3" y1="1045.38" x2="1788" y2="1045.38"/>
<line x1="311.3" y1="1039.63" x2="1788" y2="1039.63"/>
<line x1="311.3" y1="1033.88" x2="1788" y2="1033.88"/>
<line x1="311.3" y1="1028.28" x2="1788" y2="1028.28"/>
<line x1="311.3" y1="1022.68" x2="1788" y2="1022.68"/>
<line x1="311.3" y1="1015.68" x2="1788" y2="1015.68"/>
<line x1="311.3" y1="1009.98" x2="1788" y2="1009.98"/>
<line x1="311.3" y1="1004.28" x2="1788" y2="1004.28"/>
<line x1="311.3" y1="998.68" x2="1788" y2="998.68"/>
</g>
<g class="bars">
<rect x="374.64" y="1056.63" width="34" height="29.6" fill="#f03e3e"/>
<rect x="374.64" y="1028.28" width="34" height="28.35" fill="#51cf66"/>
<rect x="764.56" y="998.68" width="34" height="87.55" fill="#f03e3e"/>
<rect x="813.3" y="1056.63" width="34" height="29.6" fill="#ced4da"/>
<rect x="1057" y="1056.63" width="34" height="29.6" fill="#ced4da"/>
<rect x="1446.92" y="1056.63" width="34" height="29.6" fill="#f03e3e"/>
<rect x="1544.4" y="1056.63" width="34" height="29.6" fill="#ced4da"/>
<rect x="1544.4" y="1028.28" width="34" height="28.35" fill="#51cf66"/>
<rect x="1690.62" y="1056.63" width="34" height="29.6" fill="#f03e3e"/>
</g>
<g class="axis-right" font-family="'Liberation Sans', Arial, sans-serif" font-size="15.8" fill="#444">
<line x1="1788" y1="1086.23" x2="1795.3" y2="1086.23" stroke="#777" stroke-width="1.5"/>
<text transform="translate(1802,1091.34) rotate(0.02)">0</text>
<line x1="1788" y1="1028.28" x2="1795.3" y2="1028.28" stroke="#777" stroke-width="1.5"/>
<text transform="translate(1802,1033.39) rotate(0.02)">2</text>
</g>
</g>
<g class="row">
<g class="grid" stroke="#dddddd" stroke-width="1.5">
<line x1="342.9" y1="1097.46" x2="342.9" y2="1184.91"/>
<line x1="391.64" y1="1097.46" x2="391.64" y2="1184.91"/>
<line x1="440.38" y1="1097.46" x2="440.38" y2="1184.91"/>
<line x1="489.12" y1="1097.46" x2="489.12" y2="1184.91"/>
<line x1="537.86" y1="1097.46" x2="537.86" y2="1184.91"/>
<line x1="586.6" y1="1097.46" x2="586.6" y2="1184.91"/>
<line x1="635.34" y1="1097.46" x2="635.34" y2="1184.91"/>
<line x1="684.08" y1="1097.46" x2="684.08" y2="1184.91"/>
<line x1="732.82" y1="1097.46" x2="732.82" y2="1184.91"/>
<line x1="781.56" y1="1097.46" x2="781.56" y2="1184.91"/>
<line x1="830.3" y1="1097.46" x2="830.3" y2="1184.91"/>
<line x1="879.04" y1="1097.46" x2="879.04" y2="1184.91"/>
<line x1="927.78" y1="1097.46" x2="927.78" y2="1184.91"/>
<line x1="976.52" y1="1097.46" x2="976.52" y2="1184.91"/>
<line x1="1025.26" y1="1097.46" x2="1025.26" y2="1184.91"/>
<line x1="1074" y1="1097.46" x2="1074" y2="1184.91"/>
<line x1="1122.74" y1="1097.46" x2="1122.74" y2="1184.91"/>
<line x1="1171.48" y1="1097.46" x2="1171.48" y2="1184.91"/>
<line x1="1220.22" y1="1097.46" x2="1220.22" y2="1184.91"/>
<line x1="1268.96" y1="1097.46" x2="1268.96" y2="1184.91"/>
<line x1="1317.7" y1="1097.46" x2="1317.7" y2="1184.91"/>
<line x1="1366.44" y1="1097.46" x2="1366.44" y2="1184.91"/>
<line x1="1415.18" y1="1097.46" x2="1415.18" y2="1184.91"/>
<line x1="1463.92" y1="1097.46" x2="1463.92" y2="1184.91"/>
<line x1="1512.66" y1="1097.46" x2="1512.66" y2="1184.91"/>
<line x1="1561.4" y1="1097.46" x2="1561.4" y2="1184.91"/>
<line x1="1610.14" y1="1097.46" x2="1610.14" y2="1184.91"/>
<line x1="1658.88" y1="1097.46" x2="1658.88" y2="1184.91"/>
<line x1="1707.62" y1="1097.46" x2="1707.62" y2="1184.91"/>
<line x1="1756.36" y1="1097.46" x2="1756.36" y2="1184.91"/>
<line x1="311.3" y1="1184.91" x2="1788" y2="1184.91"/>
<line x1="311.3" y1="1176.46" x2="1788" y2="1176.46"/>
<line x1="311.3" y1="1167.91" x2="1788" y2="1167.91"/>
<line x1="311.3" y1="1158.21" x2="1788" y2="1158.21"/>
<line x1="311.3" y1="1149.56" x2="1788" y2="1149.56"/>
<line x1="311.3" y1="1141.11" x2="1788" y2="1141.11"/>
<line x1="311.3" y1="1132.81" x2="1788" y2="1132.81"/>
<line x1="311.3" y1="1124.31" x2="1788" y2="1124.31"/>
<line x1="311.3" y1="1114.26" x2="1788" y2="1114.26"/>
<line x1="311.3" y1="1105.81" x2="1788" y2="1105.81"/>
<line x1="311.3" y1="1097.46" x2="1788" y2="1097.46"/>
</g>
<g class="bars">
<rect x="569.6" y="1141.11" width="34" height="43.8" fill="#51cf66"/>
<rect x="1251.96" y="1141.11" width="34" height="43.8" fill="#fcc419"/>
<rect x="1251.96" y="1097.46" width="34" height="43.65" fill="#ced4da"/>
</g>
<g class="axis-right" font-family="'Liberation Sans', Arial, sans-serif" font-size="15.8" fill="#444">
<line x1="1788" y1="1184.91" x2="1795.3" y2="1184.91" stroke="#777" stroke-width="1.5"/>
<text transform="translate(1802,1190.02) rotate(0.02)">0</text>
<line x1="1788" y1="1141.11" x2="1795.3" y2="1141.11" stroke="#777" stroke-width="1.5"/>
<text transform="translate(1802,1146.22) rotate(0.02)">1</text>
<line x1="1788" y1="1097.46" x2="1795.3" y2="1097.46" stroke="#777" stroke-width="1.5"/>
<text transform="translate(1802,1102.57) rotate(0.02)">2</text>
</g>
</g>
</svg>
</main>
</body>
</html>
